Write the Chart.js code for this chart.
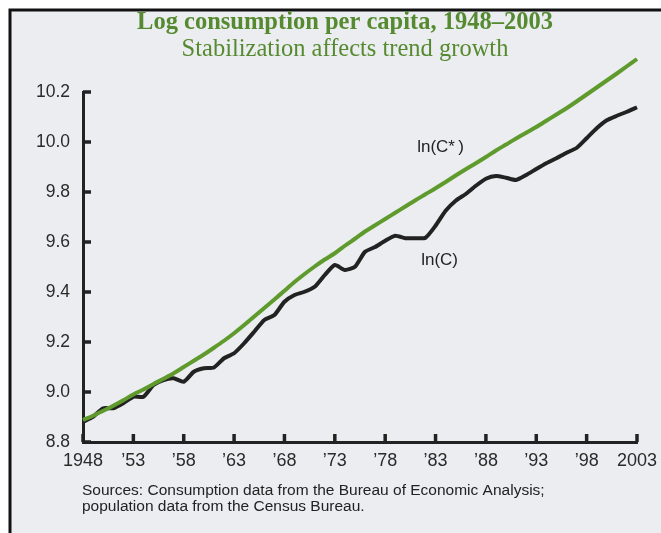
<!DOCTYPE html>
<html>
<head>
<meta charset="utf-8">
<script src="https://cdn.jsdelivr.net/npm/chart.js@4.4.1/dist/chart.umd.min.js"></script>
<style>
  html, body { margin: 0; padding: 0; background: #ffffff; }
  #wrap { width: 661px; height: 533px; }
</style>
</head>
<body>
<div id="wrap"><canvas id="myChart" width="661" height="533"></canvas></div>
<script>
const ctx = document.getElementById('myChart');

// years on the horizontal axis
const years = [];
for (let y = 1948; y <= 2003; y++) years.push(y);

// ln(C*) - trend consumption
const lnCstar = [
  8.888, 8.905, 8.925, 8.945, 8.967, 8.990, 9.010, 9.032, 9.053, 9.075,
  9.100, 9.125, 9.150, 9.177, 9.205, 9.235, 9.268, 9.302, 9.336, 9.370,
  9.405, 9.440, 9.472, 9.502, 9.530, 9.555, 9.585, 9.613, 9.642, 9.667,
  9.692, 9.717, 9.742, 9.767, 9.791, 9.815, 9.840, 9.866, 9.891, 9.915,
  9.940, 9.966, 9.990, 10.014, 10.037, 10.060, 10.085, 10.110, 10.135, 10.162,
  10.190, 10.218, 10.246, 10.274, 10.303, 10.332
];

// ln(C) - actual consumption
const lnC = [
  8.881, 8.901, 8.935, 8.935, 8.955, 8.981, 8.981, 9.028, 9.048, 9.055,
  9.041, 9.081, 9.095, 9.098, 9.135, 9.155, 9.195, 9.241, 9.288, 9.308,
  9.361, 9.388, 9.401, 9.421, 9.468, 9.508, 9.488, 9.501, 9.561, 9.580,
  9.605, 9.625, 9.615, 9.615, 9.617, 9.665, 9.725, 9.765, 9.792, 9.825,
  9.853, 9.864, 9.857, 9.848, 9.868, 9.892, 9.915, 9.935, 9.957, 9.976,
  10.015, 10.055, 10.087, 10.105, 10.121, 10.139
];

const xTicks = [1948, 1953, 1958, 1963, 1968, 1973, 1978, 1983, 1988, 1993, 1998, 2003];
const xTickLabels = ['1948', '\u201953', '\u201958', '\u201963', '\u201968', '\u201973', '\u201978', '\u201983', '\u201988', '\u201993', '\u201998', '2003'];
const yTicks = [8.8, 9.0, 9.2, 9.4, 9.6, 9.8, 10.0, 10.2];

// line labels placed in data coordinates
const lineLabels = [
  { text: 'ln(C*\u2009)', year: 1983.5, value: 9.977 },
  { text: 'ln(C)', year: 1983.4, value: 9.528 }
];

const titleText = 'Log consumption per capita, 1948\u20132003';
const subtitleText = 'Stabilization affects trend growth';
const sourceLines = [
  'Sources: Consumption data from the Bureau of Economic Analysis;',
  'population data from the Census Bureau.'
];

const INK = '#222222';
const GREEN = '#5e9a2c';

// panel background, border, titles, notes
const framePlugin = {
  id: 'frame',
  beforeDraw(chart) {
    const c = chart.ctx;
    c.save();
    c.fillStyle = '#ffffff';
    c.fillRect(0, 0, chart.width, chart.height);
    c.fillStyle = '#ebedf0';
    c.fillRect(10, 10, chart.width, chart.height);
    c.strokeStyle = '#111111';
    c.lineWidth = 3;
    c.beginPath();
    c.moveTo(10, chart.height + 5);
    c.lineTo(10, 10);
    c.lineTo(chart.width + 5, 10);
    c.stroke();

    c.textAlign = 'center';
    c.textBaseline = 'middle';
    c.fillStyle = '#568a30';
    c.font = 'bold 24.5px "Liberation Serif", "Times New Roman", serif';
    c.fillText(titleText, 345, 23);
    c.font = '24.5px "Liberation Serif", "Times New Roman", serif';
    c.fillText(subtitleText, 345, 50);

    c.textAlign = 'left';
    c.fillStyle = INK;
    c.font = '15.5px "Liberation Sans", Arial, sans-serif';
    c.fillText(sourceLines[0], 82, 491);
    c.fillText(sourceLines[1], 82, 507);
    c.restore();
  },
  afterDraw(chart) {
    const c = chart.ctx;
    const xs = chart.scales.x, ys = chart.scales.y;
    c.save();
    // inward tick marks
    c.strokeStyle = INK;
    c.lineWidth = 3.5;
    c.beginPath();
    xTicks.forEach(function(t) {
      const px = xs.getPixelForValue(t);
      c.moveTo(px, ys.bottom);
      c.lineTo(px, ys.bottom - 8);
    });
    yTicks.forEach(function(t) {
      const py = ys.getPixelForValue(t);
      c.moveTo(xs.left, py);
      c.lineTo(xs.left + 8, py);
    });
    c.stroke();
    // line labels
    c.fillStyle = INK;
    c.font = '17px "Liberation Sans", Arial, sans-serif';
    c.textAlign = 'center';
    c.textBaseline = 'middle';
    lineLabels.forEach(function(l) {
      c.fillText(l.text, xs.getPixelForValue(l.year), ys.getPixelForValue(l.value));
    });
    c.restore();
  }
};

new Chart(ctx, {
  type: 'line',
  data: {
    labels: years,
    datasets: [
      {
        label: 'ln(C*)',
        data: years.map(function(y, i) { return { x: y, y: lnCstar[i] }; }),
        borderColor: GREEN,
        borderWidth: 4,
        pointRadius: 0,
        tension: 0.3,
        clip: false
      },
      {
        label: 'ln(C)',
        data: years.map(function(y, i) { return { x: y, y: lnC[i] }; }),
        borderColor: INK,
        borderWidth: 4,
        pointRadius: 0,
        tension: 0.2,
        clip: false
      }
    ]
  },
  options: {
    responsive: false,
    animation: false,
    layout: { padding: { left: 0, right: 24, top: 92, bottom: 56 } },
    plugins: {
      legend: { display: false },
      tooltip: { enabled: false },
      title: { display: false }
    },
    scales: {
      x: {
        type: 'linear',
        min: 1948,
        max: 2003,
        afterBuildTicks: function(scale) {
          scale.ticks = xTicks.map(function(v) { return { value: v }; });
        },
        afterFit: function(scale) {
          scale.height = 35;
          scale.paddingLeft = 0;
          scale.paddingRight = 0;
        },
        grid: { display: false, drawTicks: false },
        border: { display: true, color: INK, width: 3 },
        ticks: {
          padding: 8,
          color: '#2a2a2a',
          font: { family: '"Liberation Sans", Arial, sans-serif', size: 18 },
          maxRotation: 0,
          autoSkip: false,
          callback: function(v) {
            const i = xTicks.indexOf(v);
            return i >= 0 ? xTickLabels[i] : '';
          }
        }
      },
      y: {
        type: 'linear',
        min: 8.8,
        max: 10.2,
        afterBuildTicks: function(scale) {
          scale.ticks = yTicks.map(function(v) { return { value: v }; });
        },
        afterFit: function(scale) {
          scale.width = 83;
          scale.paddingTop = 0;
          scale.paddingBottom = 0;
        },
        grid: { display: false, drawTicks: false },
        border: { display: true, color: INK, width: 3 },
        ticks: {
          padding: 13,
          color: '#2a2a2a',
          font: { family: '"Liberation Sans", Arial, sans-serif', size: 17.5 },
          callback: function(v) { return v.toFixed(1); }
        }
      }
    }
  },
  plugins: [framePlugin]
});
</script>
</body>
</html>
